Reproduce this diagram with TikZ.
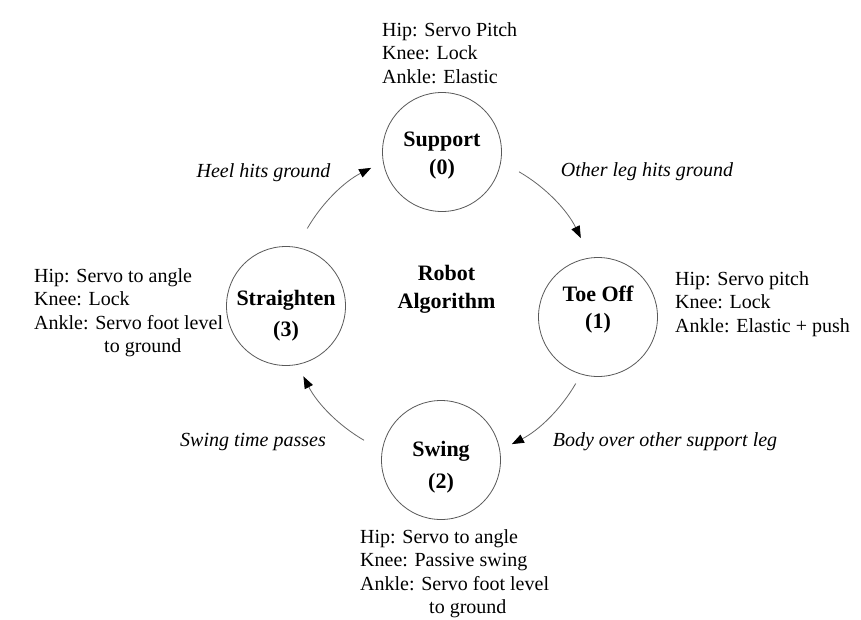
\documentclass[tikz,border=0pt]{standalone}
\usepackage{fontspec}
\setmainfont{Liberation Serif}
\usetikzlibrary{arrows.meta,calc}
\begin{document}
\begin{tikzpicture}[x=1pt,y=1pt,
  state/.style={circle, draw=black!65, line width=0.8pt, minimum size=119pt, inner sep=0pt},
  statename/.style={font=\bfseries\fontsize{22}{#1}\selectfont, align=center, inner sep=0pt},
  statename/.default=28,
  info/.style={font=\fontsize{20}{23.5}\selectfont, align=left, anchor=north west, inner sep=0pt},
  event/.style={font=\itshape\fontsize{20}{24}\selectfont, inner sep=0pt},
  flow/.style={draw=black!60, line width=0.8pt, -{Triangle[length=12pt,width=9pt,color=black]}}]

\useasboundingbox (0,0) rectangle (861,-619);
\fill[white] (0,0) rectangle (861,-619);

% states of the gait cycle
\node[state] (s0) at (442,-152) {};
\node[state] (s1) at (598,-317) {};
\node[state] (s2) at (441,-460) {};
\node[state] (s3) at (286,-306) {};
\coordinate (c) at ($(s0)!0.5!(s2)$);

\node[statename] (n0) at (442,-156) {Support\\(0)};
\node[statename=27] (n1) at (598,-310) {Toe Off\\(1)};
\node[statename=32] (n2) at (441,-467) {Swing\\(2)};
\node[statename=31] (n3) at (286,-315.5) {Straighten\\(3)};
\node[statename] (title) at (446.5,-289) {Robot\\Algorithm};

% joint settings per state
\node[info] (i0) at (382,-22) {Hip: Servo Pitch\\Knee: Lock\\Ankle: Elastic};
\node[info] (i1) at (675,-271) {Hip: Servo pitch\\Knee: Lock\\Ankle: Elastic + push};
\node[info] (i2) at (360,-529) {Hip: Servo to angle\\Knee: Passive swing\\Ankle: Servo foot level\\\hspace*{69pt}to ground};
\node[info] (i3) at (34,-268) {Hip: Servo to angle\\Knee: Lock\\Ankle: Servo foot level\\\hspace*{70pt}to ground};

% transitions
\draw[flow] ([shift={(150:155)}]c) arc[start angle=150, end angle=117, radius=155];
\draw[flow] ([shift={(60:155)}]c) arc[start angle=60, end angle=26, radius=155];
\draw[flow] ([shift={(-30:155)}]c) arc[start angle=-30, end angle=-63, radius=155];
\draw[flow] ([shift={(240:155)}]c) arc[start angle=240, end angle=207, radius=155];

\node[event] (e30) at (263.5,-173) {Heel hits ground};
\node[event] (e01) at (647,-172) {Other leg hits ground};
\node[event] (e12) at (665,-442) {Body over other support leg};
\node[event] (e23) at (253,-442) {Swing time passes};
\end{tikzpicture}
\end{document}
